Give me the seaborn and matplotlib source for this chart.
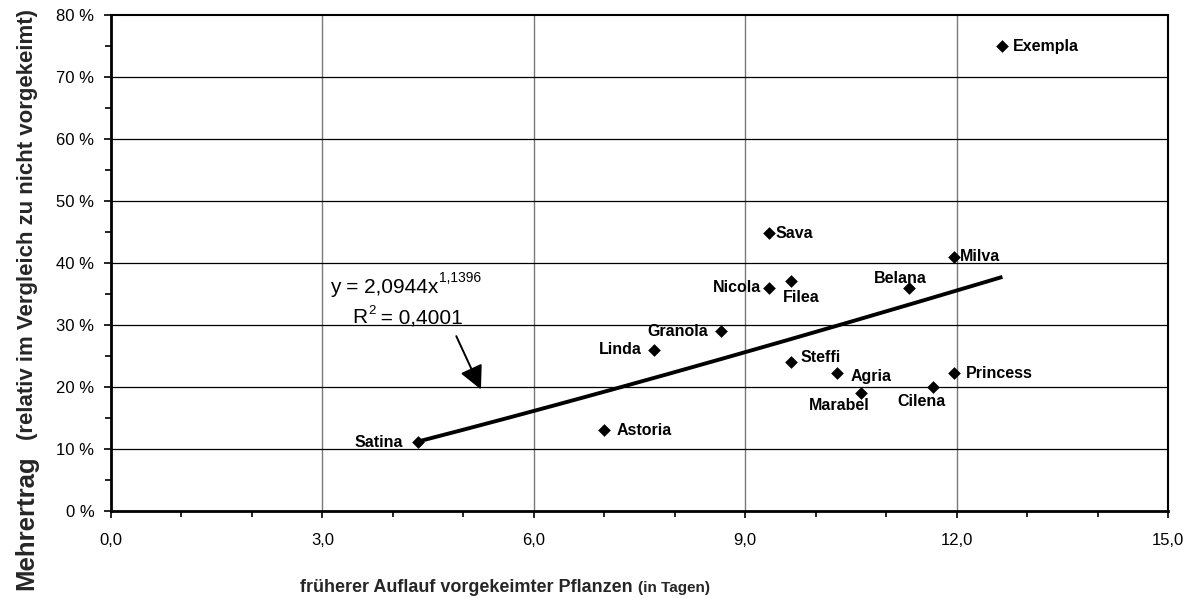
import numpy as np
import pandas as pd
import matplotlib
matplotlib.use("Agg")
import matplotlib.pyplot as plt
import seaborn as sns
from matplotlib.ticker import MultipleLocator, FuncFormatter

# ---- data ----
sorten = ["Satina", "Astoria", "Linda", "Granola", "Nicola", "Sava", "Filea", "Steffi",
          "Agria", "Marabel", "Belana", "Cilena", "Princess", "Milva", "Exempla"]
auflauf = [4.35, 6.99, 7.70, 8.66, 9.34, 9.34, 9.65, 9.65,
           10.30, 10.64, 11.32, 11.66, 11.97, 11.97, 12.65]
mehrertrag = [11.1, 13.0, 26.0, 29.0, 36.0, 44.8, 37.1, 24.1,
              22.2, 19.0, 36.0, 20.0, 22.2, 41.0, 75.0]
# trend line coefficients as printed on the chart (power fit)
coef_a = 2.0944
coef_b = 1.1396
r2_text = "0,4001"

df = pd.DataFrame({"sorte": sorten, "x": auflauf, "y": mehrertrag})

sns.set_theme(style="white")
plt.rcParams["font.family"] = ["Liberation Sans", "DejaVu Sans"]

fig = plt.figure(figsize=(11.96, 5.98), dpi=100)
W, H = 1196, 598
ax = fig.add_axes([111 / W, 1 - 511 / H, (1168 - 111) / W, (511 - 15) / H])

ax.set_xlim(0, 15)
ax.set_ylim(0, 80)

# grid
ax.xaxis.set_major_locator(MultipleLocator(3))
ax.xaxis.set_minor_locator(MultipleLocator(1))
ax.yaxis.set_major_locator(MultipleLocator(10))
ax.yaxis.set_minor_locator(MultipleLocator(5))
for v in np.arange(3, 15, 3):
    ax.axvline(v, color="#7a7a7a", lw=1.0, zorder=0)
for v in np.arange(10, 80, 10):
    ax.axhline(v, color="black", lw=0.9, zorder=0)

# trend line
xs = np.linspace(min(auflauf), max(auflauf), 200)
ax.plot(xs, coef_a * xs ** coef_b, color="black", lw=2.8, zorder=2, solid_capstyle="butt")

sns.scatterplot(data=df, x="x", y="y", marker="D", s=42, color="black",
                edgecolor="black", linewidth=0, ax=ax, zorder=3, legend=False)

# point labels: (dx, dy) in pixels, ha
offs = {
    "Satina": (-15, 0, "right"),
    "Astoria": (13, 0, "left"),
    "Linda": (-12, 0, "right"),
    "Granola": (-13, 0, "right"),
    "Nicola": (-8, 0, "right"),
    "Sava": (6, 0, "left"),
    "Filea": (-8, -17, "left"),
    "Steffi": (10, 4, "left"),
    "Agria": (14, -3, "left"),
    "Marabel": (-22, -12, "center"),
    "Belana": (-8, 9, "center"),
    "Cilena": (-11, -15, "center"),
    "Princess": (11, 0, "left"),
    "Milva": (5, 0, "left"),
    "Exempla": (10, 0, "left"),
}
for s, xv, yv in zip(sorten, auflauf, mehrertrag):
    dx, dy, ha = offs[s]
    ax.annotate(s, (xv, yv), xytext=(dx, dy), textcoords="offset pixels",
                ha=ha, va="center", fontsize=11.5, fontweight="bold", color="black")

# equation annotation
t1 = ax.text(3.11, 35.2, f"y = {coef_a:.4f}x".replace(".", ","), fontsize=15,
             ha="left", va="baseline", color="black")
ax.annotate(f"{coef_b:.4f}".replace(".", ","), xy=(1.0, 0.62), xycoords=t1,
            ha="left", va="bottom", fontsize=10, color="black")
t2 = ax.text(3.43, 30.3, "R", fontsize=15, ha="left", va="baseline", color="black")
t3 = ax.annotate("2", xy=(1.0, 0.55), xycoords=t2, ha="left", va="bottom",
                 fontsize=9.5, color="black")
ax.annotate(f" = {r2_text}", xy=(1.0, 0.0), xycoords=(t3, t2),
            ha="left", va="bottom", fontsize=15, color="black", annotation_clip=False)
ax.annotate("", xy=(5.25, 19.6), xytext=(4.9, 28.2),
            arrowprops=dict(arrowstyle="-|>", mutation_scale=36, lw=1.4, color="black",
                            shrinkA=0, shrinkB=0))

# axes styling
ax.xaxis.set_major_formatter(FuncFormatter(lambda v, p: f"{v:.1f}".replace(".", ",")))
ax.yaxis.set_major_formatter(FuncFormatter(lambda v, p: f"{int(round(v))} %"))
ax.tick_params(axis="both", which="both", direction="out", color="black",
               labelsize=12, labelcolor="black", bottom=True, left=True)
ax.tick_params(axis="both", which="major", length=5, width=1.2)
ax.tick_params(axis="x", which="major", pad=11)
ax.tick_params(axis="y", which="major", pad=7)
ax.tick_params(axis="both", which="minor", length=4, width=1.2)
for side in ["left", "bottom"]:
    ax.spines[side].set_linewidth(2.0)
for side in ["top", "right"]:
    ax.spines[side].set_linewidth(1.5)
for sp in ax.spines.values():
    sp.set_color("black")
ax.set_xlabel("")
ax.set_ylabel("")

# axis titles
fig.text(633 / W, 1 - 592 / H, "früherer Auflauf vorgekeimter Pflanzen", ha="right",
         va="baseline", fontsize=13, fontweight="bold")
fig.text(638 / W, 1 - 592 / H, "(in Tagen)", ha="left", va="baseline",
         fontsize=11, fontweight="bold")
fig.text(33 / W, 1 - 590 / H, "Mehrertrag", rotation=90, rotation_mode="anchor",
         ha="left", va="baseline", fontsize=18.5, fontweight="bold")
fig.text(33 / W, 1 - 440 / H, "(relativ im Vergleich zu nicht vorgekeimt)", rotation=90,
         rotation_mode="anchor", ha="left", va="baseline", fontsize=16, fontweight="bold")

fig.savefig("out.png", dpi=100)
